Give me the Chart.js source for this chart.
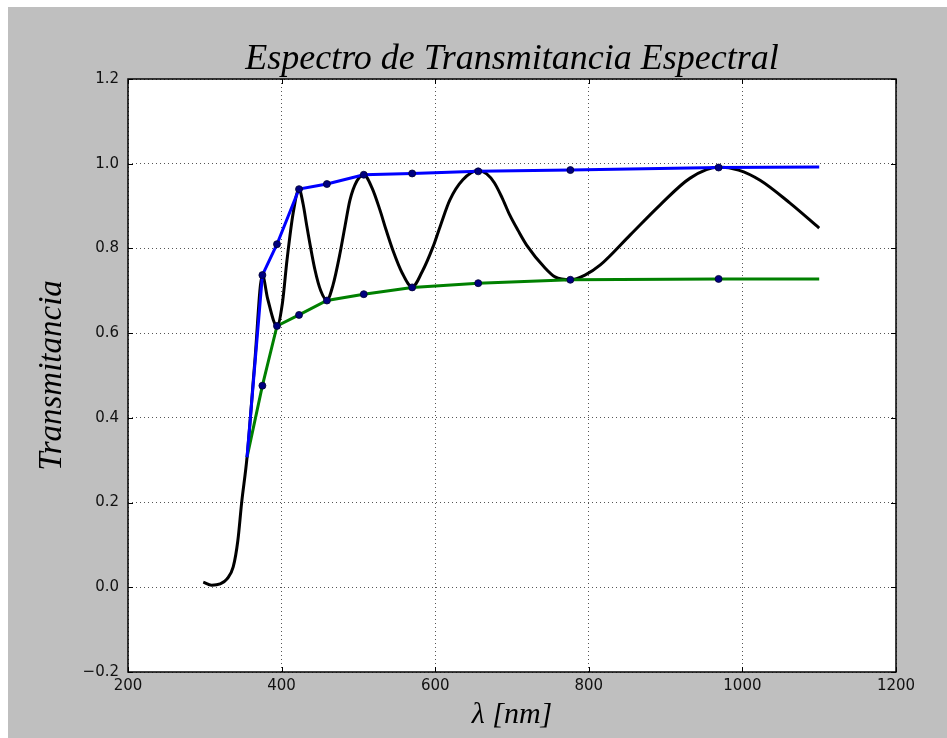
<!DOCTYPE html>
<html><head><meta charset="utf-8">
<script src="https://cdn.jsdelivr.net/npm/chart.js@4/dist/chart.umd.min.js"></script>
<style>
html,body{margin:0;padding:0;background:#fff;}
#wrap{position:absolute;left:8px;top:7px;width:939px;height:731px;background:#bfbfbf;}
canvas{display:block;}
</style></head><body>
<div id="wrap"><canvas id="c" width="939" height="731"></canvas></div>
<script>
// Measured spectrum (black curve)
const spectrumWavelength = [298, 309, 320, 329, 337, 343, 348, 355, 365, 375, 382, 394, 401, 407, 415, 422.7, 428, 433, 443.5, 451, 459, 467, 476, 482.6, 489, 498, 507, 517.7, 528, 536, 545, 557, 570, 583, 597, 607, 619, 636, 656, 667, 677, 687, 697, 708, 719, 743, 756, 776, 795, 815, 854, 893, 932, 969, 995, 1023, 1062, 1100];
const spectrumTransmittance = [0.012, 0.005, 0.008, 0.02, 0.048, 0.11, 0.20, 0.307, 0.53, 0.737, 0.68, 0.617, 0.67, 0.772, 0.883, 0.94, 0.905, 0.851, 0.749, 0.700, 0.678, 0.714, 0.788, 0.853, 0.914, 0.959, 0.974, 0.943, 0.891, 0.844, 0.795, 0.742, 0.709, 0.745, 0.803, 0.855, 0.914, 0.962, 0.984, 0.976, 0.955, 0.920, 0.879, 0.842, 0.808, 0.754, 0.733, 0.726, 0.737, 0.761, 0.832, 0.903, 0.966, 0.992, 0.985, 0.961, 0.907, 0.848];
// Envelopes
const envelopeWavelength = [355, 375, 394, 422.7, 459, 507, 570, 656, 776, 969, 1100];
const upperEnvelope = [0.307, 0.737, 0.81, 0.94, 0.952, 0.974, 0.977, 0.982, 0.985, 0.991, 0.992];
const lowerEnvelope = [0.307, 0.476, 0.617, 0.643, 0.677, 0.692, 0.708, 0.718, 0.726, 0.728, 0.728];
// Markers at extrema
const extremaWavelength = [375, 394, 422.7, 459, 507, 570, 656, 776, 969];
const upperAtExtrema = [0.737, 0.81, 0.94, 0.952, 0.974, 0.977, 0.982, 0.985, 0.991];
const lowerAtExtrema = [0.476, 0.617, 0.643, 0.677, 0.692, 0.708, 0.718, 0.726, 0.728];
// Ticks
const xTickValues = [200, 400, 600, 800, 1000, 1200];
const yTickValues = [-0.2, 0.0, 0.2, 0.4, 0.6, 0.8, 1.0, 1.2];

const pts = (xs, ys) => xs.map((x, i) => ({x, y: ys[i]}));

const plotBg = {
  id: 'plotBg',
  beforeDraw(chart) {
    const {ctx, chartArea: a} = chart;
    ctx.save(); ctx.fillStyle = '#ffffff';
    ctx.fillRect(a.left, a.top, a.right - a.left, a.bottom - a.top);
    ctx.restore();
  }
};
const frame = {
  id: 'frame',
  afterDraw(chart) {
    const {ctx, chartArea: a, scales} = chart;
    ctx.save();
    ctx.strokeStyle = '#000'; ctx.lineWidth = 1;
    const L = 5;
    ctx.beginPath();
    xTickValues.forEach(v => {
      const px = Math.round(scales.x.getPixelForValue(v)) + 0.5;
      ctx.moveTo(px, a.bottom); ctx.lineTo(px, a.bottom - L);
      ctx.moveTo(px, a.top); ctx.lineTo(px, a.top + L);
    });
    yTickValues.forEach(v => {
      const py = Math.round(scales.y.getPixelForValue(v)) + 0.5;
      ctx.moveTo(a.left, py); ctx.lineTo(a.left + L, py);
      ctx.moveTo(a.right, py); ctx.lineTo(a.right - L, py);
    });
    ctx.stroke();
    ctx.lineWidth = 1.5;
    ctx.strokeRect(a.left, a.top, a.right - a.left, a.bottom - a.top);
    ctx.restore();
  }
};

const tickFont = {family: 'DejaVu Sans', size: 15};

new Chart(document.getElementById('c'), {
  type: 'line',
  data: {
    datasets: [
      {label: 'max', data: pts(extremaWavelength, upperAtExtrema), showLine: false, pointRadius: 3.5,
       pointBackgroundColor: '#000080', pointBorderColor: '#000030', pointBorderWidth: 0.8, order: 0},
      {label: 'min', data: pts(extremaWavelength, lowerAtExtrema), showLine: false, pointRadius: 3.5,
       pointBackgroundColor: '#000080', pointBorderColor: '#000030', pointBorderWidth: 0.8, order: 0},
      {label: 'Tmax', data: pts(envelopeWavelength, upperEnvelope), borderColor: '#0000ff', borderWidth: 3,
       pointRadius: 0, tension: 0, order: 1},
      {label: 'Tmin', data: pts(envelopeWavelength, lowerEnvelope), borderColor: '#008000', borderWidth: 3,
       pointRadius: 0, tension: 0, order: 2},
      {label: 'T', data: pts(spectrumWavelength, spectrumTransmittance), borderColor: '#000000', borderWidth: 3,
       pointRadius: 0, cubicInterpolationMode: 'monotone', order: 3}
    ]
  },
  options: {
    responsive: false,
    animation: false,
    layout: {padding: {left: 0, top: 0, right: 51, bottom: 0}},
    plugins: {
      legend: {display: false},
      tooltip: {enabled: false},
      title: {display: true, fullSize: false, text: 'Espectro de Transmitancia Espectral', color: '#000',
              font: {family: 'Liberation Serif', style: 'italic', size: 36, weight: 'normal'},
              padding: {top: 31, bottom: -2.2}}
    },
    scales: {
      x: {
        type: 'linear', min: 200, max: 1200,
        afterBuildTicks: s => { s.ticks = xTickValues.map(v => ({value: v})); },
        afterFit: s => { s.height = 66; },
        ticks: {font: tickFont, color: '#111', padding: 5, maxRotation: 0, callback: v => String(v)},
        grid: {color: '#555', lineWidth: 1, drawTicks: false},
        border: {display: false, dash: [1, 3]},
        title: {display: true, text: 'λ [nm]', font: {family: 'Liberation Serif', style: 'italic', size: 30},
                color: '#000', padding: {top: 0, bottom: 5}}
      },
      y: {
        type: 'linear', min: -0.2, max: 1.2,
        afterBuildTicks: s => { s.ticks = yTickValues.map(v => ({value: v})); },
        afterFit: s => { s.width = 120; },
        ticks: {font: tickFont, color: '#111', padding: 9, callback: v => v.toFixed(1).replace('-', '\u2212')},
        grid: {color: '#555', lineWidth: 1, drawTicks: false},
        border: {display: false, dash: [1, 3]},
        title: {display: true, text: 'Transmitancia', font: {family: 'Liberation Serif', style: 'italic', size: 33},
                color: '#000', padding: {top: 25, bottom: 0}}
      }
    }
  },
  plugins: [plotBg, frame]
});
</script>
</body></html>
